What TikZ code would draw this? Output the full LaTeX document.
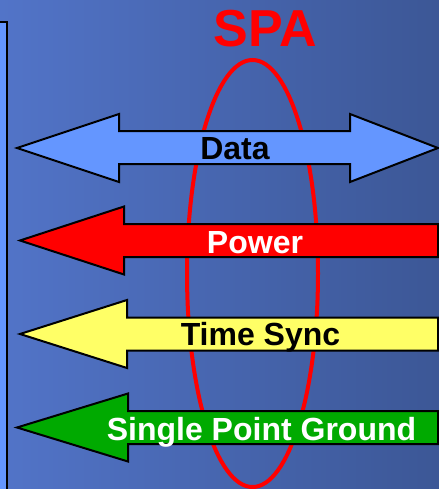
\documentclass[tikz,border=0pt]{standalone}
\usepackage{fontspec}
\setmainfont{Liberation Sans}
\definecolor{bgleft}{RGB}{82,116,200}
\definecolor{bgright}{RGB}{60,87,150}
\definecolor{datablue}{RGB}{100,150,255}
\definecolor{syncyellow}{RGB}{255,255,102}
\definecolor{gndgreen}{RGB}{0,170,0}
\tikzset{
  arr/.style={draw=black,line width=1.5pt,line join=miter},
  lbl/.style={font=\bfseries\fontsize{24}{24}\selectfont,inner sep=0pt,anchor=base}
}
\begin{document}
\begin{tikzpicture}[x=0.75pt,y=-0.75pt]
		\useasboundingbox (0,0) rectangle (439,489);
		\shade[left color=bgleft,right color=bgright] (0,0) rectangle (439,489);
		\draw[fill=datablue,line width=1.5pt] (-5,21.5) rectangle (6.5,495);
		
		\draw[red,line width=3pt] (252.5,273.5) ellipse [x radius=65.5,y radius=213.5];
		\node[lbl,text=red,font=\bfseries\fontsize{39}{39}\selectfont] (spa) at (265.5,46.5) {SPA};
		
		\draw[arr,fill=datablue] (17,148)--(119,114)--(119,131)--(350,131)--(350,114)--(438,148)--(350,182)--(350,164)--(119,164)--(119,182)--cycle;
		\foreach \tip/\base/\y/\col in {20/124/240.5/red, 20/127/334/syncyellow, 17/128/427.5/gndgreen}
		\draw[arr,fill=\col] (\tip,\y)--(\base,\y-34)--(\base,\y-16.5)--(438,\y-16.5)--(438,\y+16.5)--(\base,\y+16.5)--(\base,\y+34)--cycle;
		
		\node[lbl] (data) at (235,159) {Data};
		\node[lbl,text=white] (power) at (255,253) {Power};
		\node[lbl] (sync) at (260.5,345) {Time Sync};
		\node[lbl,text=white] (ground) at (261.5,440) {Single Point Ground};
\end{tikzpicture}
\end{document}
